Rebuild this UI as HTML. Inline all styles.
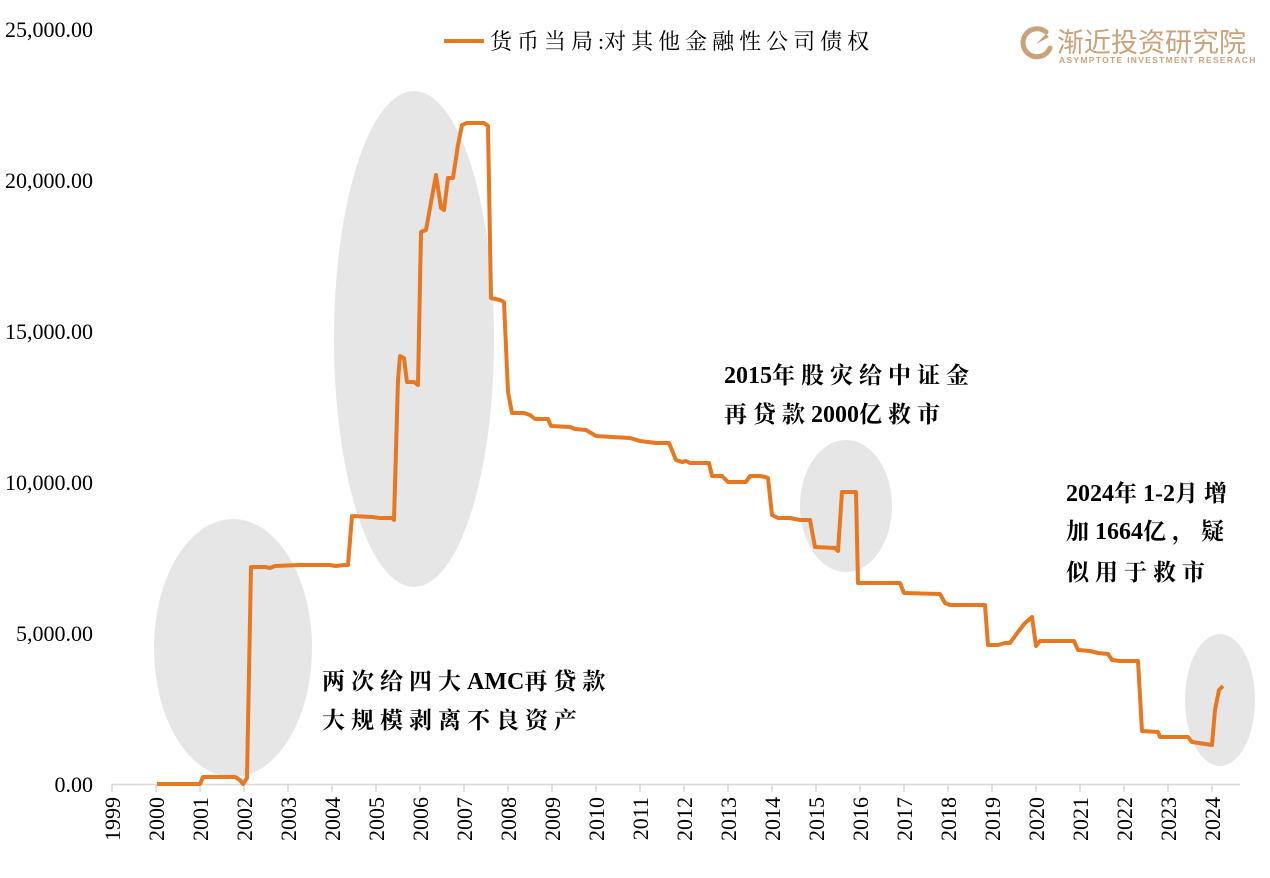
<!DOCTYPE html>
<html><head><meta charset="utf-8"><style>
body{margin:0;background:#fff;}
svg text{font-family:"Liberation Serif","Noto Serif CJK SC",serif;}
.l{letter-spacing:0;font-size:24px}
</style></head><body>
<svg width="1270" height="873" xmlns="http://www.w3.org/2000/svg">
<g fill="#e6e6e6">
<ellipse cx="233" cy="648" rx="79" ry="129"/>
<ellipse cx="414" cy="339" rx="80" ry="248"/>
<ellipse cx="846" cy="506" rx="46" ry="66"/>
<ellipse cx="1220" cy="700" rx="35" ry="66"/>
</g>
<line x1="112" y1="784.5" x2="1240" y2="784.5" stroke="#d9d9d9" stroke-width="1.5"/>
<g stroke="#d9d9d9" stroke-width="1.5">
<line x1="112" y1="784" x2="112" y2="792"/><line x1="156" y1="784" x2="156" y2="792"/><line x1="200" y1="784" x2="200" y2="792"/><line x1="244" y1="784" x2="244" y2="792"/><line x1="288" y1="784" x2="288" y2="792"/><line x1="332" y1="784" x2="332" y2="792"/><line x1="376" y1="784" x2="376" y2="792"/><line x1="420" y1="784" x2="420" y2="792"/><line x1="464" y1="784" x2="464" y2="792"/><line x1="508" y1="784" x2="508" y2="792"/><line x1="552" y1="784" x2="552" y2="792"/><line x1="596" y1="784" x2="596" y2="792"/><line x1="640" y1="784" x2="640" y2="792"/><line x1="684" y1="784" x2="684" y2="792"/><line x1="728" y1="784" x2="728" y2="792"/><line x1="772" y1="784" x2="772" y2="792"/><line x1="816" y1="784" x2="816" y2="792"/><line x1="860" y1="784" x2="860" y2="792"/><line x1="904" y1="784" x2="904" y2="792"/><line x1="948" y1="784" x2="948" y2="792"/><line x1="992" y1="784" x2="992" y2="792"/><line x1="1036" y1="784" x2="1036" y2="792"/><line x1="1080" y1="784" x2="1080" y2="792"/><line x1="1124" y1="784" x2="1124" y2="792"/><line x1="1168" y1="784" x2="1168" y2="792"/><line x1="1212" y1="784" x2="1212" y2="792"/>
</g>
<g font-size="22" fill="#000" text-anchor="end">
<text x="93" y="792">0.00</text>
<text x="93" y="641">5,000.00</text>
<text x="93" y="490">10,000.00</text>
<text x="93" y="339">15,000.00</text>
<text x="93" y="188">20,000.00</text>
<text x="93" y="37">25,000.00</text>
</g>
<g font-size="22" fill="#000" text-anchor="end">
<text transform="translate(120,797) rotate(-90)">1999</text>
<text transform="translate(164,797) rotate(-90)">2000</text>
<text transform="translate(208,797) rotate(-90)">2001</text>
<text transform="translate(252,797) rotate(-90)">2002</text>
<text transform="translate(296,797) rotate(-90)">2003</text>
<text transform="translate(340,797) rotate(-90)">2004</text>
<text transform="translate(384,797) rotate(-90)">2005</text>
<text transform="translate(428,797) rotate(-90)">2006</text>
<text transform="translate(472,797) rotate(-90)">2007</text>
<text transform="translate(516,797) rotate(-90)">2008</text>
<text transform="translate(560,797) rotate(-90)">2009</text>
<text transform="translate(604,797) rotate(-90)">2010</text>
<text transform="translate(648,797) rotate(-90)">2011</text>
<text transform="translate(692,797) rotate(-90)">2012</text>
<text transform="translate(736,797) rotate(-90)">2013</text>
<text transform="translate(780,797) rotate(-90)">2014</text>
<text transform="translate(824,797) rotate(-90)">2015</text>
<text transform="translate(868,797) rotate(-90)">2016</text>
<text transform="translate(912,797) rotate(-90)">2017</text>
<text transform="translate(956,797) rotate(-90)">2018</text>
<text transform="translate(1000,797) rotate(-90)">2019</text>
<text transform="translate(1044,797) rotate(-90)">2020</text>
<text transform="translate(1088,797) rotate(-90)">2021</text>
<text transform="translate(1132,797) rotate(-90)">2022</text>
<text transform="translate(1176,797) rotate(-90)">2023</text>
<text transform="translate(1220,797) rotate(-90)">2024</text>
</g>
<polyline fill="none" stroke="#e87722" stroke-width="4" stroke-linejoin="round" points="157,784 200,784 203,777 235,777 240,780 243,784 247,778 251,567 265,567 270,568 275,566 300,565 330,565 335,566 345,565 348,565 352,516 372,517 380,518 392,518 394,520 398,380 400,356 404,358 407,382 414,382 418,385 421,232 426,230 436,175 441,208 444,210 448,178 453,178 458,145 462,125 467,123 484,123 488,126 491,298 500,300 504,302 508,392 512,413 524,413 530,415 535,419 548,419 551,426 570,427 575,429 586,430 596,436 612,437 630,438 640,441 656,443 669,443 676,460 682,462 686,461 690,463 709,463 712,476 722,476 728,482 746,482 750,476 760,476 765,477 768,478 772,515 778,518 790,518 800,520 810,520 815,547 835,548 838,551 842,492 856,492 858,583 900,583 904,593 940,594 945,603 950,605 985,605 988,645 998,645 1005,643 1010,643 1018,632 1025,623 1032,617 1036,646 1040,641 1060,641 1074,641 1078,650 1090,651 1098,653 1108,654 1112,660 1120,661 1138,661 1142,731 1158,732 1160,737 1188,737 1192,742 1212,745 1215,710 1219,690 1223,686"/>
<line x1="444" y1="41" x2="484" y2="41" stroke="#e87722" stroke-width="4"/>
<text x="490" y="49" font-size="22" letter-spacing="5" fill="#000">货币当局<tspan letter-spacing="0">:</tspan>对其他金融性公司债权</text>
<g font-size="23" fill="#000" font-weight="bold" letter-spacing="6">
<text x="322" y="689">两次给四大<tspan class="l">AMC</tspan>再贷款</text>
<text x="322" y="728">大规模剥离不良资产</text>
<text x="724" y="383"><tspan class="l">2015</tspan>年股灾给中证金</text>
<text x="724" y="422">再贷款<tspan class="l">2000</tspan>亿救市</text>
<text x="1066" y="501"><tspan class="l">2024</tspan>年<tspan class="l">1-2</tspan>月增</text>
<text x="1066" y="539">加<tspan class="l">1664</tspan>亿，疑</text>
<text x="1066" y="580">似用于救市</text>
</g>
<g fill="#c9a27a">
<path d="M1046 32 A14 14 0 1 0 1050 48" fill="none" stroke="#c9a27a" stroke-width="5" stroke-linecap="round"/>
<path d="M1036 44 L1046 34 L1049 37 Z"/>
<text x="1057" y="52" font-size="27" style="font-family:'Noto Sans CJK SC',sans-serif">渐近投资研究院</text>
<text x="1059" y="63" font-size="8.5" font-weight="bold" letter-spacing="1.3" style="font-family:'Liberation Sans',sans-serif">ASYMPTOTE INVESTMENT RESERACH</text>
</g>
</svg>
</body></html>
